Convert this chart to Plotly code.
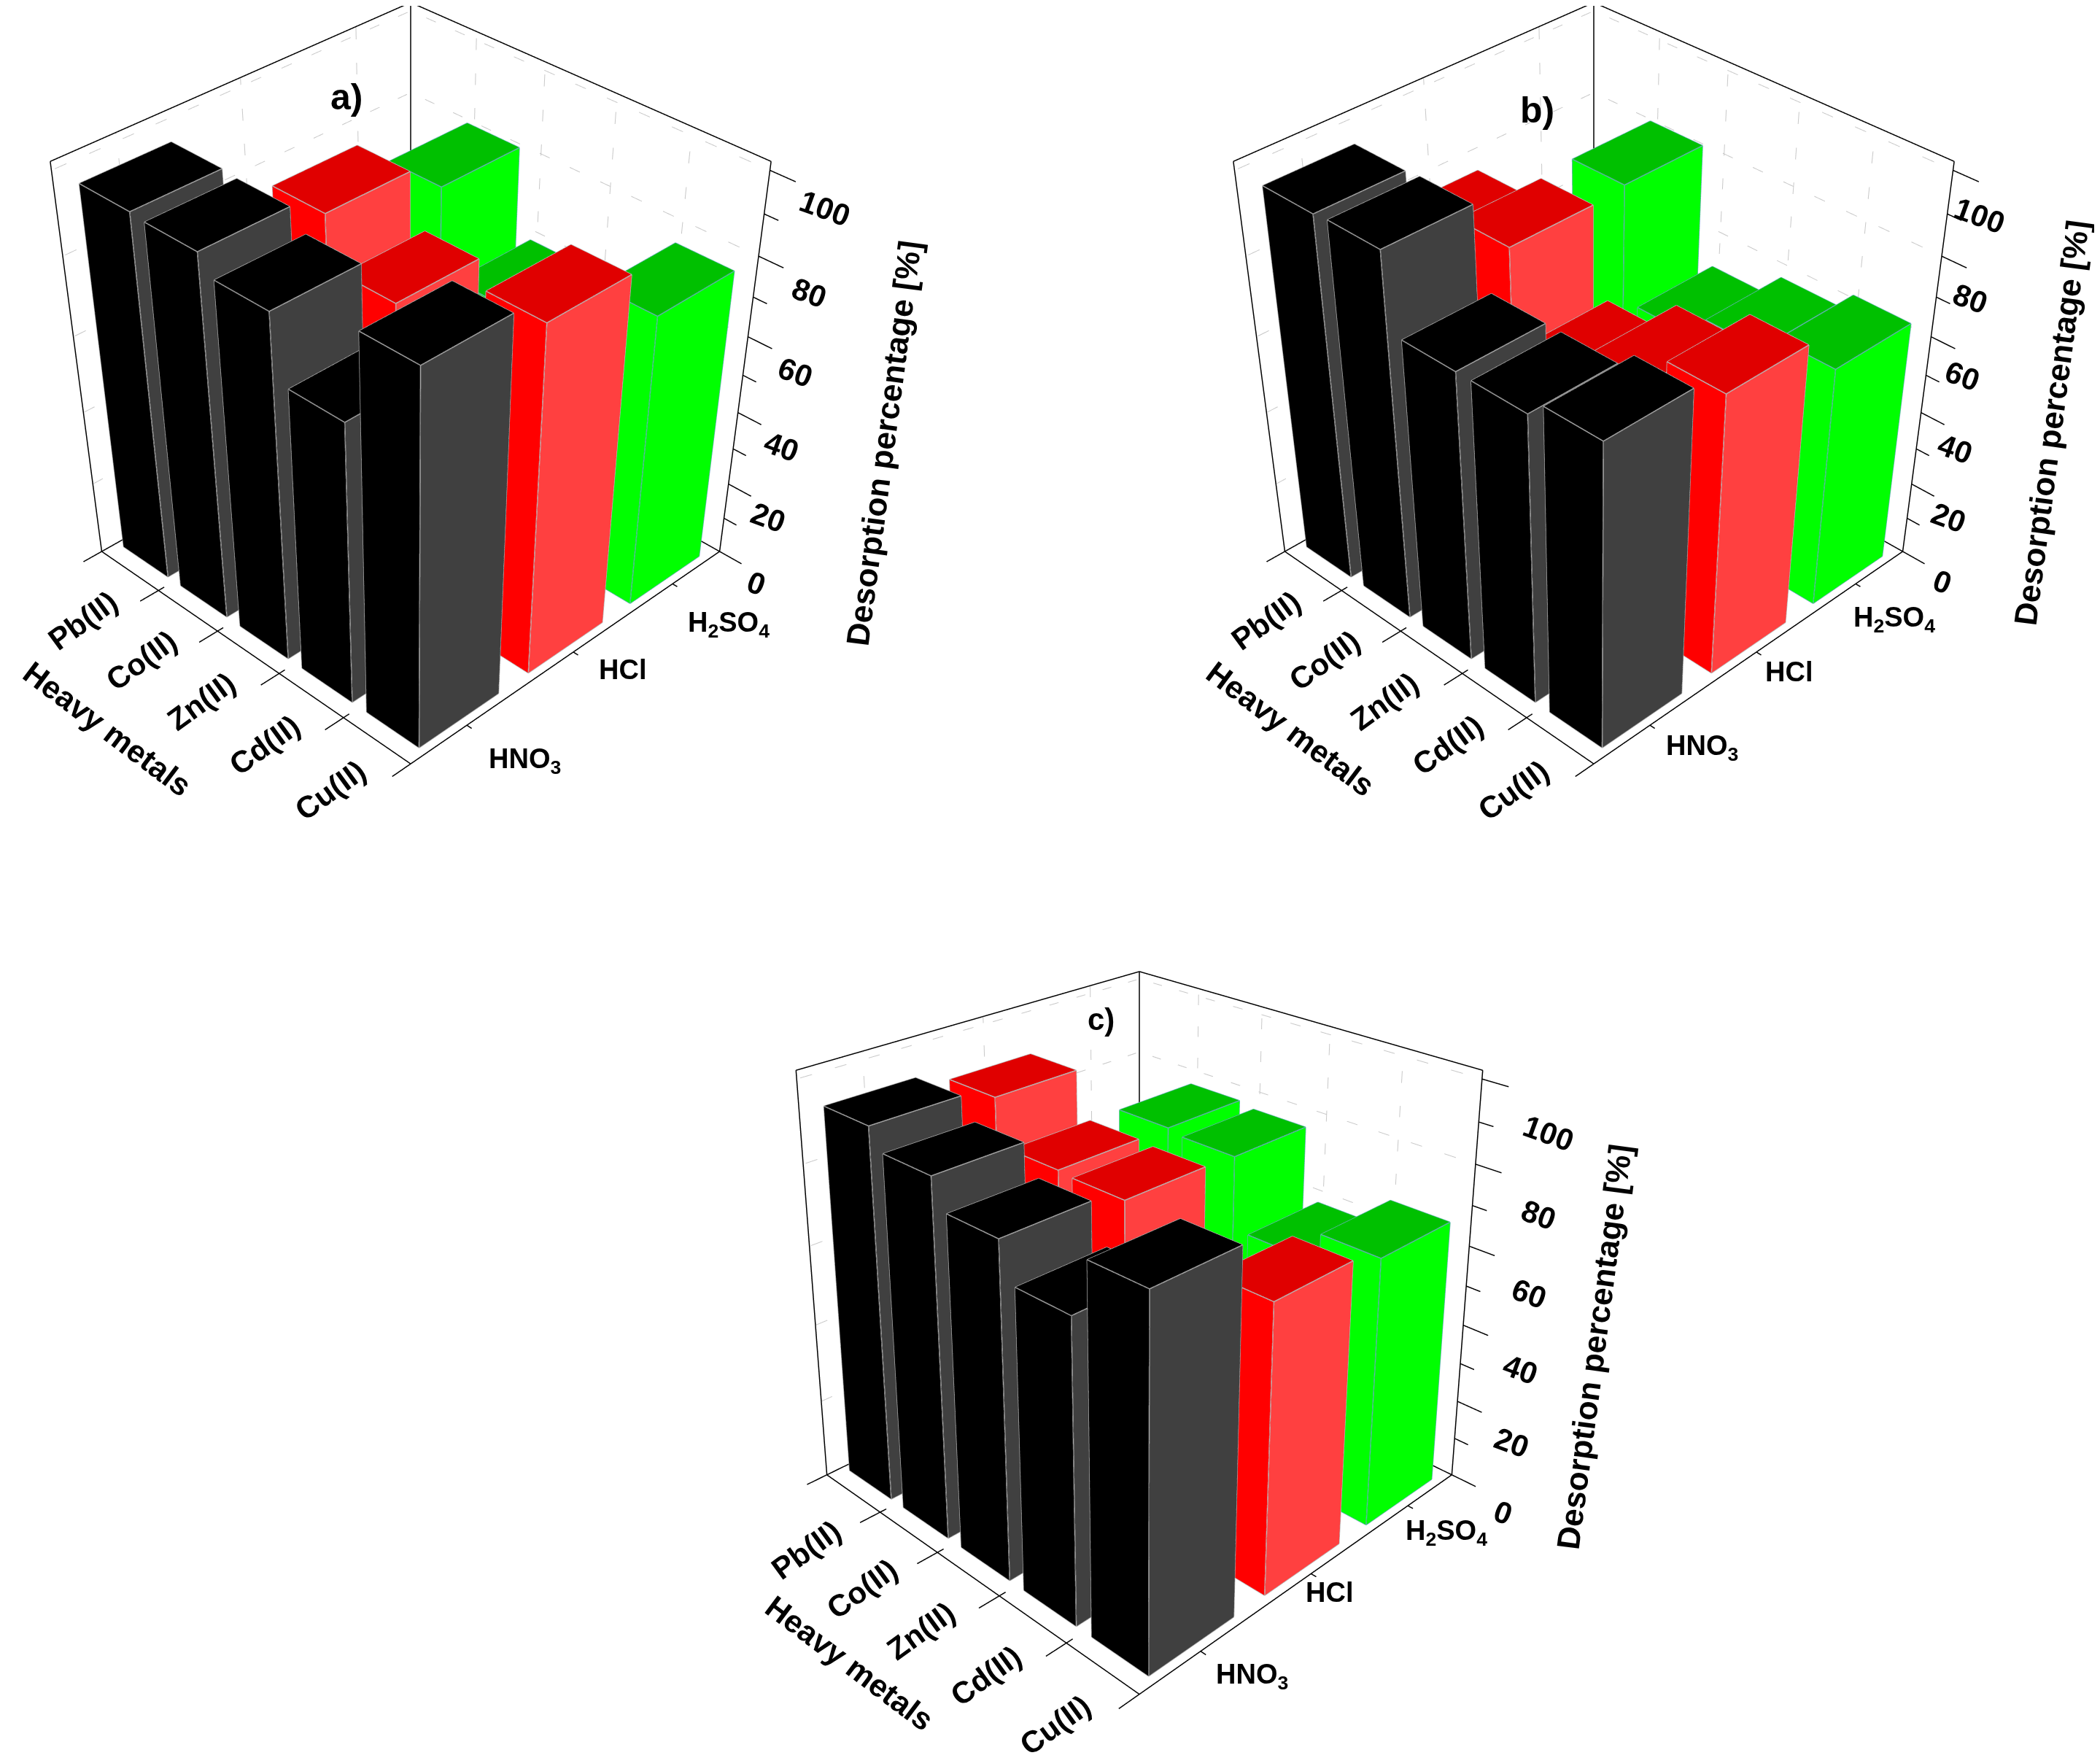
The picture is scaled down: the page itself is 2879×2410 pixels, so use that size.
import numpy as np
import plotly.graph_objects as go

metals = ["Pb(II)", "Co(II)", "Zn(II)", "Cd(II)", "Cu(II)"]
acids = ["HNO<sub>3</sub>", "HCl", "H<sub>2</sub>SO<sub>4</sub>"]
z_ticks = [0, 10, 20, 30, 40, 50, 60, 70, 80, 90, 100]

# desorption percentage read per acid, one list per panel
a_hno3 = [96, 95.5, 91, 75, 98]
a_hcl = [70, 90, 77.5, 65, 91.5]
a_h2so4 = [58, 82.5, 61, 55, 77.5]

b_hno3 = [95.5, 96, 77, 77, 81]
b_hcl = [76, 82, 60, 68, 75]
b_h2so4 = [55, 83, 54, 60, 64.5]

c_hno3 = [93, 88, 81, 72, 85.5]
c_hcl = [90, 78.5, 78, 58.5, 69.7]
c_h2so4 = [49, 78.5, 77.5, 59.5, 66.8]

WIDTH, HEIGHT = 2879, 2410
Z_MAX = 102
X_RANGE = [-0.1, 5.5]
Y_RANGE = [-0.4, 3.1]
Z_RANGE = [-2, 104]
FONT = "Liberation Sans"
HALF_X, HALF_Y = 0.39, 0.36

# left face, right face, top, edge
STYLES = [
    ("#000000", "#404040", "#000000", "#a8a8a8"),
    ("#ff0000", "#ff4040", "#e00000", "#b8b8b8"),
    ("#00ff00", "#00ff00", "#00c000", "#60b0b0"),
]


def bar_traces(values, row, style, scene):
    left, right, top, edge = style
    xs, ys, zs, i, j, k, colors = [], [], [], [], [], [], []
    ex, ey, ez = [], [], []
    for m, v in enumerate(values):
        x0, x1 = m + 0.5 - HALF_X, m + 0.5 + HALF_X
        y0, y1 = row + 0.5 - HALF_Y, row + 0.5 + HALF_Y
        n = len(xs)
        xs += [x0, x1, x1, x0, x0, x1, x1, x0]
        ys += [y0, y0, y1, y1, y0, y0, y1, y1]
        zs += [0, 0, 0, 0, v, v, v, v]
        faces = [
            (0, 1, 5, left), (0, 5, 4, left),
            (1, 2, 6, right), (1, 6, 5, right),
            (4, 5, 6, top), (4, 6, 7, top),
            (2, 3, 7, left), (2, 7, 6, left),
            (3, 0, 4, left), (3, 4, 7, left),
        ]
        for a, b, c, col in faces:
            i.append(n + a)
            j.append(n + b)
            k.append(n + c)
            colors.append(col)
        for a, b in [(0, 1), (1, 2), (0, 4), (1, 5), (2, 6), (4, 5), (5, 6), (6, 7), (7, 4)]:
            ex += [xs[n + a], xs[n + b], None]
            ey += [ys[n + a], ys[n + b], None]
            ez += [zs[n + a], zs[n + b], None]
    mesh = go.Mesh3d(
        x=xs, y=ys, z=zs, i=i, j=j, k=k, facecolor=colors, flatshading=True,
        lighting=dict(ambient=1, diffuse=0, specular=0, roughness=1, fresnel=0),
        hoverinfo="skip", scene=scene,
    )
    lines = go.Scatter3d(
        x=ex, y=ey, z=ez, mode="lines", line=dict(color=edge, width=3),
        hoverinfo="skip", scene=scene,
    )
    return [mesh, lines]


def segments(items, color, width, scene, dash="solid"):
    ex, ey, ez = [], [], []
    for p, q in items:
        ex += [p[0], q[0], None]
        ey += [p[1], q[1], None]
        ez += [p[2], q[2], None]
    return go.Scatter3d(
        x=ex, y=ey, z=ez, mode="lines", line=dict(color=color, width=width, dash=dash),
        hoverinfo="skip", scene=scene,
    )


def frame_traces(scene):
    n, r, t = len(metals), len(acids), Z_MAX
    box = [
        ((0, 0, 0), (n, 0, 0)), ((n, 0, 0), (n, r, 0)), ((0, 0, 0), (0, r, 0)), ((0, r, 0), (n, r, 0)),
        ((0, 0, 0), (0, 0, t)), ((n, r, 0), (n, r, t)), ((0, r, 0), (0, r, t)),
        ((0, 0, t), (0, r, t)), ((0, r, t), (n, r, t)),
    ]
    ticks = [((m, 0.05, 0), (m, -0.16, 0)) for m in range(n + 1)]
    ticks += [((n, c + 0.5, 0), (n + 0.07, c + 0.5, 0)) for c in range(r)]
    for v in z_ticks:
        size = 0.32 if v % 20 == 0 else 0.18
        ticks.append(((n, r, v), (n + size, r, v)))
    grid = []
    for v in z_ticks[2::2]:
        grid.append(((0, 0, v), (0, r, v)))
        grid.append(((0, r, v), (n, r, v)))
    for c in range(r):
        grid.append(((0, c + 0.5, 0), (0, c + 0.5, t)))
    for m in range(1, n):
        grid.append(((m, r, 0), (m, r, t)))
    return [
        segments(grid, "#c8c8c8", 2, scene, dash="dot"),
        segments(box + ticks, "#000000", 3, scene),
    ]


def camera(elev, pitch, dist):
    # box centre in scene units, since the ranges also hold the tick marks
    centre = np.array([
        (2.5 - sum(X_RANGE) / 2) / 5,
        (1.5 - sum(Y_RANGE) / 2) / 3,
        0.0,
    ])
    e, p = np.radians(elev), np.radians(pitch)
    eye = centre + dist * np.array([np.cos(e) / np.sqrt(2), -np.cos(e) / np.sqrt(2), np.sin(e)])
    look = eye + dist * np.array([-np.cos(p) / np.sqrt(2), np.cos(p) / np.sqrt(2), -np.sin(p)])
    return dict(
        eye=dict(x=eye[0], y=eye[1], z=eye[2]),
        center=dict(x=look[0], y=look[1], z=look[2]),
        up=dict(x=0, y=0, z=1),
        projection=dict(type="perspective"),
    )


def label(x, y, z, text, dx, dy, angle, size):
    return dict(
        x=x, y=y, z=z, text=text, showarrow=False, xshift=dx, yshift=-dy, textangle=angle,
        font=dict(family=FONT, size=size, color="#000000"), xanchor="center", yanchor="middle",
    )


def scene_labels(title_shift, acid_shift, z_shift, heavy_shift=(-193, 105), metal_shift=(-64, 68)):
    items = []
    for m, name in enumerate(metals):
        items.append(label(m + 0.5, 0, 0, "<b>%s</b>" % name, metal_shift[0], metal_shift[1], -36, 42))
    for c, name in enumerate(acids):
        items.append(label(5, c + 0.5, 0, "<b>%s</b>" % name, acid_shift[c][0], acid_shift[c][1], 0, 38))
    for v in z_ticks[::2]:
        dx = z_shift[0] + z_shift[1] * v
        dy = z_shift[2] + z_shift[3] * v
        items.append(label(5, 3, v, "<b>%d</b>" % v, dx, dy, 20, 42))
    items.append(label(2.5, 0, 0, "<b>Heavy metals</b>", heavy_shift[0], heavy_shift[1], 37, 43))
    items.append(label(5, 3, 51, "<b>Desorption percentage [%]</b>", title_shift[0], title_shift[1], -82.5, 44))
    return items


def panel_tag(x, y, text, size):
    return dict(
        x=x / WIDTH, y=1 - y / HEIGHT, xref="paper", yref="paper", text="<b>%s</b>" % text, showarrow=False,
        xanchor="center", yanchor="middle", font=dict(family=FONT, size=size, color="#000000"),
    )


def scene_layout(dom_x, dom_y, cam, z_aspect, annotations):
    hidden = dict(visible=False, showbackground=False, showgrid=False, zeroline=False, showspikes=False)
    return dict(
        domain=dict(x=[dom_x[0] / WIDTH, dom_x[1] / WIDTH], y=[1 - dom_y[1] / HEIGHT, 1 - dom_y[0] / HEIGHT]),
        xaxis=dict(range=X_RANGE, **hidden),
        yaxis=dict(range=Y_RANGE, **hidden),
        zaxis=dict(range=Z_RANGE, **hidden),
        aspectmode="manual",
        aspectratio=dict(
            x=(X_RANGE[1] - X_RANGE[0]) / 5,
            y=(Y_RANGE[1] - Y_RANGE[0]) / 3,
            z=z_aspect * (Z_RANGE[1] - Z_RANGE[0]) / Z_MAX,
        ),
        camera=cam,
        annotations=annotations,
        bgcolor="rgba(0,0,0,0)",
    )


fig = go.Figure()
panels = [
    ("scene", (a_hno3, a_hcl, a_h2so4)),
    ("scene2", (b_hno3, b_hcl, b_h2so4)),
    ("scene3", (c_hno3, c_hcl, c_h2so4)),
]
for scene, rows in panels:
    fig.add_traces(frame_traces(scene))
    for row, values in enumerate(rows):
        fig.add_traces(bar_traces(values, row, STYLES[row], scene))

fig.update_layout(
    width=WIDTH, height=HEIGHT, margin=dict(l=0, r=0, t=0, b=0), autosize=False,
    paper_bgcolor="#ffffff", showlegend=False,
    scene=scene_layout((0, 1110), (0, 2410), camera(33, 46.6, 4.64), 0.955,
                       scene_labels((192, 98), [(79, 49), (68, 24), (77, 56)], (50, 0.25, 44, 0.08))),
    scene2=scene_layout((1475, 2879), (0, 2410), camera(33, 46.6, 4.64), 0.955,
                        scene_labels((171, 70), [(71, 31), (45, 27), (53, 49)], (54, -0.18, 42, 0.2))),
    scene3=scene_layout((999, 2109), (524, 2384), camera(27.5, 20, 3.57), 0.975,
                        scene_labels((175, 89), [(71, 34), (25, 26), (53, 37)], (70, 0.21, 52, 0.22),
                                     heavy_shift=(-162, 123), metal_shift=(-64, 78))),
    annotations=[
        panel_tag(467, 125, "a)", 50),
        panel_tag(2099, 143, "b)", 50),
        panel_tag(1502, 1390, "c)", 42),
    ],
)

fig.write_html("out.html")
